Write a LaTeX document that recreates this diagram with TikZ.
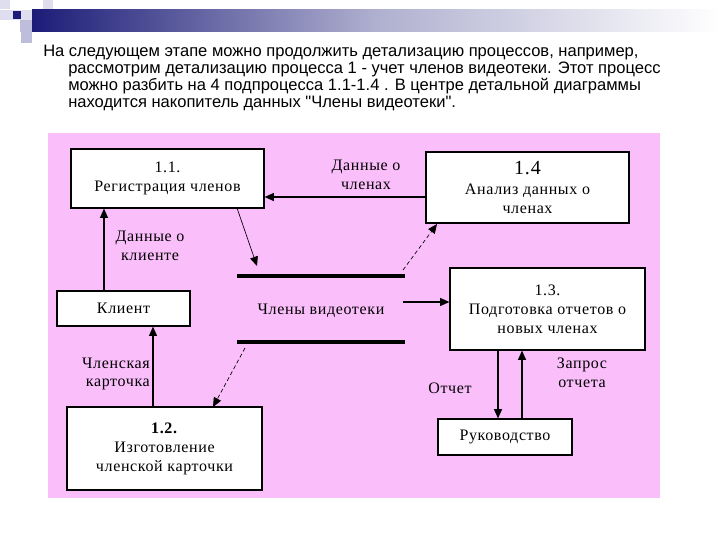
\documentclass[tikz,border=0pt]{standalone}
\usepackage{fontspec}
\setmainfont{Liberation Serif}
\newfontfamily\headfont{Liberation Sans}
\newfontfamily\diagfont[LetterSpace=4]{Liberation Serif}
\usetikzlibrary{arrows.meta}
\definecolor{pinkbg}{RGB}{250,190,250}
\definecolor{navy}{RGB}{28,28,120}
\definecolor{lav}{RGB}{190,190,220}
\definecolor{lavlight}{RGB}{222,222,238}
\tikzset{
  procbox/.style={draw=black, line width=0.9pt, fill=white, align=center, inner sep=0pt,
    font=\diagfont\fontsize{12}{14.3}\selectfont},
  lbl/.style={align=center, inner sep=0pt, font=\diagfont\fontsize{12}{14}\selectfont},
  flow/.style={line width=0.9pt, -{Triangle[length=7pt,width=6pt]}},
  thinflow/.style={line width=0.5pt, -{Triangle[length=7pt,width=6pt]}},
  storeline/.style={line width=3pt},
}
\begin{document}
\begin{tikzpicture}[x=0.75pt,y=-0.75pt]
\useasboundingbox (0,0) rectangle (720,540);
\fill[white] (0,0) rectangle (720,540);
% top decoration
\shade[left color=navy, right color=white, middle color=navy!35] (32,9) rectangle (720,31);
\fill[lavlight] (0,0) rectangle (10,9);
\fill[lavlight] (43,0) rectangle (53,9);
\fill[lavlight] (0,10) rectangle (32,20);
\fill[navy] (13,11) rectangle (21,19);
\fill[lav] (20,20) rectangle (32,32);
\fill[lav] (21,32) rectangle (32,43);
% header text
\node[anchor=north west, inner sep=0pt, align=left, font=\headfont\fontsize{12.4}{12.8}\selectfont] (head) at (43,45)
{На следующем этапе можно продолжить детализацию процессов, например,\\
\hspace*{18.75pt}рассмотрим детализацию процесса 1 - учет членов видеотеки. Этот процесс\\
\hspace*{18.75pt}можно разбить на 4 подпроцесса 1.1-1.4 . В центре детальной диаграммы\\
\hspace*{18.75pt}находится накопитель данных "Члены видеотеки".};
% pink area
\fill[pinkbg] (48,133) rectangle (660,498);
% boxes
\node[procbox, minimum width=193*0.75pt, minimum height=59*0.75pt] (n11) at (167.5,178.5)
{1.1.\\Регистрация членов};
\node[procbox, minimum width=203*0.75pt, minimum height=71*0.75pt] (n14) at (527.5,187.5)
{{\fontsize{15}{16}\selectfont 1.4}\\Анализ данных о\\членах};
\node[procbox, minimum width=133*0.75pt, minimum height=35*0.75pt] (kl) at (123.5,308.5)
{Клиент};
\node[procbox, minimum width=195*0.75pt, minimum height=82*0.75pt] (n13) at (547.5,309)
{1.3.\\Подготовка отчетов о\\новых членах};
\node[procbox, minimum width=195*0.75pt, minimum height=83*0.75pt] (n12) at (164.5,448.5)
{\textbf{1.2.}\\Изготовление\\членской карточки};
\node[procbox, minimum width=134*0.75pt, minimum height=36*0.75pt] (ruk) at (505,437)
{Руководство};
% data store
\node[minimum width=168*0.75pt, minimum height=66*0.75pt, inner sep=0pt] (store) at (321,309) {};
\draw[storeline] (store.north west) -- (store.north east);
\draw[storeline] (store.south west) -- (store.south east);
\node[lbl] (storelbl) at (321,311) {Члены видеотеки};
% connectors
\coordinate (a1) at (427,197);
\draw[flow] (a1) -- (n11.east |- a1);
\node[lbl] (l1) at (366,175) {Данные о\\членах};

\coordinate (b1) at (237,208);
\coordinate (b2) at (257,266);
\draw[thinflow] (b1) -- (b2);

\coordinate (c1) at (104,290);
\draw[flow] (kl.north -| c1) -- (n11.south -| c1);
\node[lbl] (l2) at (150,246) {Данные о\\клиенте};

\coordinate (d1) at (403,270);
\coordinate (d2) at (437,224);
\draw[thinflow, densely dashed] (d1) -- (d2);

\coordinate (e1) at (403,302);
\draw[flow] (e1) -- (n13.west |- e1);

\coordinate (f1) at (153,407);
\draw[flow] (n12.north -| f1) -- (kl.south -| f1);
\node[lbl, align=right] (l3) at (116,374) {Членская\\карточка};

\coordinate (g1) at (245,348);
\coordinate (g2) at (213,407);
\draw[thinflow, densely dashed] (g1) -- (g2);

\coordinate (h1) at (498,350);
\draw[flow] (n13.south -| h1) -- (ruk.north -| h1);
\node[lbl] (l4) at (450,388) {Отчет};

\coordinate (i1) at (522,350);
\draw[flow] (ruk.north -| i1) -- (n13.south -| i1);
\node[lbl] (l5) at (582,373) {Запрос\\отчета};
\end{tikzpicture}
\end{document}
